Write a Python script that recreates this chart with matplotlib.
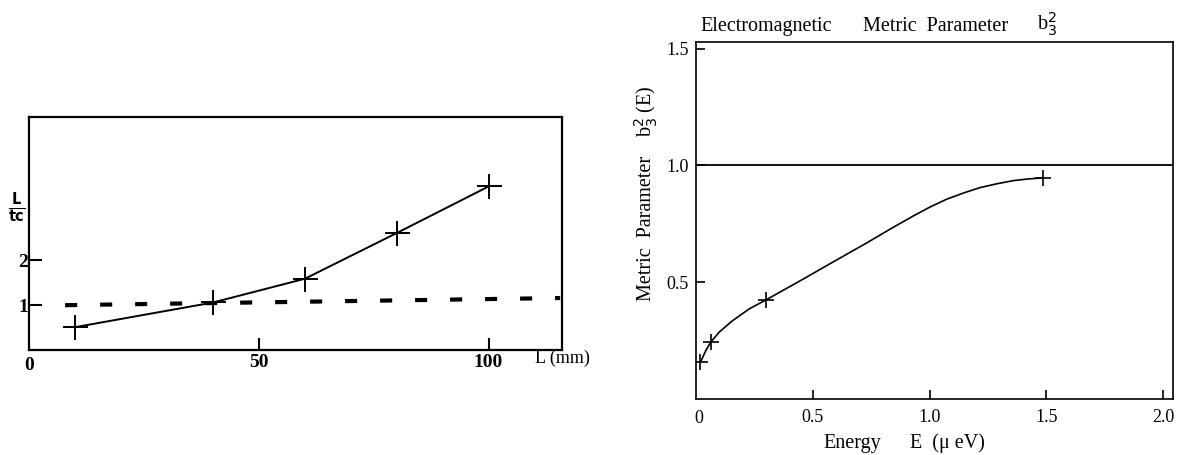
import numpy as np
import matplotlib.pyplot as plt

plt.rc('font', family='Liberation Serif')
plt.rc('mathtext', fontset='dejavusans')

# left panel: L/tc versus L
L_mm = [10, 40, 60, 80, 100]
L_tc = [0.51, 1.06, 1.59, 2.61, 3.65]
dash_x = [7.8, 115.6]
dash_y = [1.0, 1.16]

# right panel: metric parameter versus energy
E_pts = [0.02, 0.064, 0.30, 1.484]
b_pts = [0.157, 0.243, 0.424, 0.947]
E_curve = [0.02, 0.043, 0.064, 0.10, 0.157, 0.229, 0.30, 0.443, 0.586, 0.729,
           0.829, 0.929, 1.00, 1.072, 1.145, 1.215, 1.29, 1.358, 1.42, 1.484]
b_curve = [0.157, 0.207, 0.243, 0.286, 0.335, 0.386, 0.424, 0.504, 0.586, 0.667,
           0.726, 0.783, 0.821, 0.855, 0.882, 0.905, 0.922, 0.935, 0.942, 0.947]

fig = plt.figure(figsize=(11.77, 4.55), dpi=100)

# ---- left
ax1 = fig.add_axes([0.0249, 0.2308, 0.4526, 0.512])
ax1.plot(L_mm, L_tc, 'k-', lw=1.4, marker='+', ms=18, mew=1.4)
ax1.plot(dash_x, dash_y, 'k', lw=3, dashes=(2.9, 5.5))
ax1.set_xlim(0, 116)
ax1.set_ylim(0, 5.2)
ax1.set_xticks([50, 100])
ax1.set_yticks([1, 2])
ax1.tick_params(direction='in', length=9, width=1.5, labelsize=14)
ax1.tick_params(axis='x', pad=3)
ax1.tick_params(axis='y', pad=1)
for t in ax1.get_xticklabels() + ax1.get_yticklabels():
    t.set_fontweight('bold')
for s in ax1.spines.values():
    s.set_linewidth(1.6)
ax1.text(0, -0.03, '0', transform=ax1.transAxes, ha='center', va='top',
         fontsize=14, fontweight='bold')
ax1.text(1.0, -0.035, 'L (mm)', transform=ax1.transAxes, ha='center', va='center',
         fontsize=13)
ax1.text(-0.024, 3.2, r'$\mathbf{\frac{L}{tc}}$', ha='center', va='center',
         fontsize=15, transform=ax1.get_yaxis_transform())

# ---- right
ax2 = fig.add_axes([0.5911, 0.1231, 0.4053, 0.7853])
ax2.plot(E_curve, b_curve, 'k-', lw=1.2)
ax2.plot(E_pts, b_pts, 'k+', ms=12, mew=1.2)
ax2.axhline(1.0, color='k', lw=1.3)
ax2.set_xlim(0, 2.04)
ax2.set_ylim(0, 1.53)
ax2.set_xticks([0.5, 1.0, 1.5, 2.0])
ax2.set_xticklabels(['0.5', '1.0', '1.5', '2.0'])
ax2.set_yticks([0.5, 1.0, 1.5])
ax2.set_yticklabels(['0.5', '1.0', '1.5'])
ax2.tick_params(direction='in', length=6.5, width=1.2, labelsize=13, pad=7)
ax2.tick_params(axis='y', pad=5)
for s in ax2.spines.values():
    s.set_linewidth(1.2)
ax2.text(0.007, -0.03, '0', transform=ax2.transAxes, ha='center', va='top', fontsize=13)

# title pieces placed as in the original
ax2.text(0.009, 1.031, 'Electromagnetic', transform=ax2.transAxes,
         ha='left', va='baseline', fontsize=14.5)
ax2.text(0.351, 1.031, 'Metric  Parameter', transform=ax2.transAxes,
         ha='left', va='baseline', fontsize=14.5)
ax2.text(0.716, 1.031, r'b$_3^2$', transform=ax2.transAxes,
         ha='left', va='baseline', fontsize=14.5)

# y label pieces
ax2.text(-0.104, 0.476, 'Metric  Parameter', transform=ax2.transAxes, rotation=90,
         ha='center', va='center', fontsize=14.5)
ax2.text(-0.104, 0.806, r'b$_3^2$ (E)', transform=ax2.transAxes, rotation=90,
         ha='center', va='center', fontsize=14.5)

# x label pieces
ax2.text(0.267, -0.137, 'Energy', transform=ax2.transAxes,
         ha='left', va='baseline', fontsize=14.5)
ax2.text(0.450, -0.137, 'E  (μ eV)', transform=ax2.transAxes,
         ha='left', va='baseline', fontsize=14.5)

fig.savefig('out.png', dpi=100)
